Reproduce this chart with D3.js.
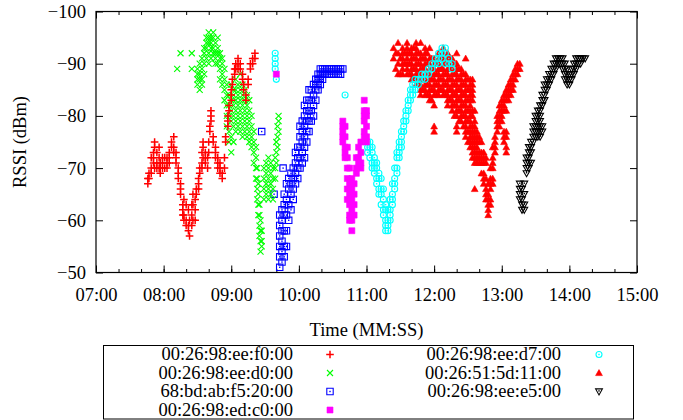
<!DOCTYPE html>
<html>
<head>
<meta charset="utf-8">
<script src="https://cdn.jsdelivr.net/npm/d3@7"></script>
<style>
  body { margin: 0; background: #fff; }
  text { font-family: "Liberation Serif", "Times New Roman", "DejaVu Serif", serif; font-size: 18.5px; fill: #000; }
</style>
</head>
<body>
<script>

// legend names, in plot order
var macs = ["00:26:98:ee:f0:00", "00:26:98:ee:d0:00", "68:bd:ab:f5:20:00", "00:26:98:ed:c0:00",
            "00:26:98:ee:d7:00", "00:26:51:5d:11:00", "00:26:98:ee:e5:00"];

var xTicks = [420, 480, 540, 600, 660, 720, 780, 840, 900];   // seconds
var xTickLabels = ["07:00", "08:00", "09:00", "10:00", "11:00", "12:00", "13:00", "14:00", "15:00"];
var yTicks = [-100, -90, -80, -70, -60, -50];
var yTickLabels = ["\u2212100", "\u221290", "\u221280", "\u221270", "\u221260", "\u221250"];

// each row: [time in seconds, rssi readings...]
var f0 = [
  [466, -68, -67], [467, -69, -68], [469, -70, -69, -72], [471, -72, -73, -71], [472, -75, -74, -70],
  [474, -73, -71, -70], [476, -74, -72, -70], [477, -71, -70, -69], [479, -70, -71, -72], [481, -72, -70],
  [483, -71, -70, -72], [485, -73, -72, -71], [487, -75, -74], [489, -76, -74, -73], [491, -73, -72, -71],
  [493, -70, -69, -68], [495, -67, -66, -65], [497, -63, -62, -61], [498, -64, -61, -60], [500, -63, -60, -59],
  [502, -62, -59, -58], [503, -60, -57], [505, -63, -61, -59], [506, -65, -63, -60], [508, -64, -62, -60],
  [509, -66, -65], [511, -68, -67, -66], [512, -70, -69], [514, -73, -71, -70], [515, -75, -74, -72],
  [517, -73, -72, -71], [519, -72, -70], [520, -75, -73], [521, -78, -77], [522, -81, -80, -79],
  [524, -76, -75], [526, -74, -73, -72], [528, -72, -71, -70], [530, -71, -70, -69], [532, -69, -68],
  [534, -72, -70], [535, -76, -75], [537, -80, -79, -78], [538, -82, -81], [540, -85, -84, -83],
  [541, -87, -86], [543, -88, -89], [544, -90, -89], [546, -91, -90, -89], [548, -90, -89],
  [550, -88, -87], [551, -86, -85], [553, -84, -83], [555, -87, -86], [557, -90, -89],
  [559, -91, -90], [561, -92, -91]
];

var d0 = [
  [492, -89], [495, -92], [505, -92, -89], [510, -89, -88, -87, -86], [512, -90, -88, -87, -85],
  [514, -91, -89, -87, -86], [516, -93, -92, -90, -88], [518, -95, -94, -93, -91], [520, -96, -95, -94, -92, -90],
  [522, -95, -94, -93, -91], [524, -96, -95, -93, -92], [526, -94, -92, -91, -90], [528, -95, -93, -92, -90],
  [530, -92, -91, -89, -87], [532, -91, -90, -88, -86], [534, -89, -87, -85, -83], [536, -86, -84, -82, -80, -78],
  [538, -84, -82, -80, -77, -75], [540, -86, -83, -81, -79, -76, -73], [542, -85, -84, -82, -80, -78, -75],
  [544, -87, -85, -83, -81, -79, -77], [546, -86, -84, -82, -80, -78], [548, -88, -85, -83, -81, -79, -77],
  [550, -86, -84, -82, -80, -78, -76], [552, -85, -83, -81, -79, -77], [554, -84, -82, -80, -78, -76],
  [556, -83, -81, -79, -77, -75], [558, -80, -78, -76, -74], [560, -77, -75, -73, -71], [562, -74, -72, -70, -68],
  [563, -70, -68, -66, -64], [564, -67, -65, -63, -61], [565, -63, -61, -59, -57], [566, -60, -58, -56, -54],
  [567, -58, -56, -55], [569, -70, -68, -66, -64], [571, -71, -69, -67, -65], [573, -72, -70, -68, -66, -64],
  [575, -71, -69, -67, -65], [577, -70, -68, -66, -64], [579, -72, -70, -68], [580, -75, -73, -71],
  [581, -78, -76, -74], [582, -80, -79, -77]
];

var f520 = [
  [567, -77], [578, -65], [586, -70],
  [583, -51, -53, -55, -57, -59, -61], [585, -52, -54, -56, -58, -60, -62], [587, -53, -55, -58, -61, -63, -65],
  [589, -55, -58, -61, -64, -67], [591, -60, -63, -66, -68], [593, -62, -65, -67, -69], [595, -64, -66, -68, -70],
  [597, -67, -69, -71, -73], [599, -68, -70, -72, -74], [601, -70, -72, -74, -76, -78], [603, -71, -73, -75, -77, -79],
  [605, -72, -74, -76, -78, -80, -82], [607, -75, -77, -79, -81, -83], [609, -77, -79, -81, -83, -85],
  [611, -79, -81, -83, -85], [613, -80, -82, -84, -86], [615, -83, -85, -86, -87], [617, -85, -86, -87, -88],
  [619, -86, -87, -88, -89], [621, -87, -88, -89], [623, -88, -89], [625, -88, -89], [627, -88, -89],
  [629, -88, -89], [631, -88, -89], [633, -88, -89], [635, -88, -89], [637, -88, -89], [639, -89]
];

var c0 = [
  [580, -88], [639, -79, -78, -77, -76, -75], [641, -78, -76, -74, -73, -72], [643, -74, -72, -70, -68, -66, -64],
  [645, -70, -67, -65, -63, -61, -60], [647, -68, -66, -64, -62, -60, -58], [649, -67, -65, -63, -61],
  [651, -72, -70, -69], [653, -74, -72, -71], [655, -75, -73, -71, -70], [658, -83, -81, -80, -79, -77, -76],
  [660, -81, -80, -78, -76, -75]
];

var d7 = [
  [579, -92, -91, -90, -89], [580, -87], [641, -84], [661, -75, -74, -73], [663, -75, -74, -72],
  [665, -74, -73, -71, -70], [667, -72, -71, -70, -69], [669, -71, -70, -68, -67], [671, -69, -68, -66, -65],
  [673, -68, -66, -65, -63], [675, -66, -64, -62, -61], [677, -63, -62, -60, -59, -58], [679, -62, -60, -59, -58],
  [681, -64, -62, -61, -60], [683, -67, -65, -64, -63], [685, -70, -68, -67, -66], [687, -73, -72, -70, -69],
  [689, -75, -74, -73, -72], [691, -77, -76, -75, -74], [693, -79, -78, -77], [695, -81, -80, -79],
  [697, -83, -82, -81], [699, -85, -84, -83], [701, -86, -85, -84], [703, -87, -86, -85], [706, -87, -86],
  [709, -88, -87], [712, -88, -87], [715, -89, -88], [718, -90, -89], [721, -91, -90], [724, -92, -91, -90],
  [727, -93, -92, -91], [730, -93, -92, -90], [733, -91, -90], [736, -90, -89]
];

var s5d = [
  [684, -93, -91], [686, -92, -89], [688, -94, -92, -90, -88], [690, -91, -88],
  [692, -93, -92, -91, -90, -89, -88], [694, -92, -90], [696, -94, -93, -92, -91, -90, -89, -88],
  [698, -92, -90, -88], [700, -93, -92, -91, -90, -89, -88, -87], [702, -93, -91, -89, -87],
  [704, -94, -93, -92, -91, -90, -89, -88, -87, -86], [706, -92, -90, -88, -86],
  [708, -94, -92, -91, -90, -89, -88, -87, -86, -85, -84], [710, -91, -89, -87, -85],
  [712, -93, -92, -91, -90, -89, -88, -87, -86, -85, -84], [714, -92, -90, -88, -86, -84],
  [716, -93, -91, -90, -89, -88, -87, -86, -85, -84, -83], [718, -91, -89, -87, -85, -83],
  [720, -91, -90, -89, -88, -87, -86, -85, -84, -82, -78, -77], [722, -90, -88, -86, -84],
  [724, -92, -91, -90, -89, -88, -87, -86, -85, -84], [726, -91, -89, -87, -85],
  [728, -93, -92, -91, -90, -89, -88, -87, -86, -85, -84], [730, -90, -88, -86, -84],
  [732, -92, -91, -90, -89, -88, -87, -86, -85, -84, -83, -82], [734, -91, -89, -87, -85, -83],
  [736, -91, -90, -89, -88, -87, -86, -85, -84, -83, -82, -81], [738, -90, -88, -86, -84, -82, -80],
  [740, -92, -90, -89, -88, -87, -86, -85, -84, -83, -82, -81, -80, -78, -77], [742, -89, -87, -85, -83, -81, -79],
  [744, -89, -88, -87, -86, -85, -84, -83, -82, -81, -80, -79], [746, -88, -86, -84, -82, -80, -78],
  [748, -91, -88, -87, -86, -85, -84, -83, -82, -81, -80, -79, -78, -77, -76], [750, -87, -85, -83, -81, -79, -77, -75],
  [752, -87, -86, -85, -84, -83, -82, -81, -80, -79, -78, -77, -76, -75, -74],
  [754, -87, -86, -85, -84, -83, -81, -80, -78, -77, -76, -75, -74, -73, -72],
  [756, -81, -79, -78, -77, -76, -75, -74, -73, -72, -71, -66], [758, -77, -76, -75, -74, -73, -72, -71],
  [760, -76, -75, -73, -72, -71], [762, -75, -73, -72, -71, -69], [764, -73, -72, -71, -69, -68, -67],
  [766, -72, -71, -68, -66, -65, -64], [768, -67, -65, -64, -63, -62, -61], [770, -70, -68, -67, -66, -64, -63],
  [772, -74, -72, -71, -70, -68, -67], [774, -76, -75, -74, -73], [776, -80, -79, -78, -77],
  [778, -82, -81, -80, -79, -78], [780, -83, -82, -81, -80, -79], [782, -84, -83, -82, -81, -77, -76, -75],
  [784, -85, -84, -83, -81, -77, -76, -74, -73], [786, -86, -85, -84, -83], [788, -87, -86, -85, -84],
  [790, -88, -87, -86, -85], [792, -89, -88, -87], [794, -90, -89, -88], [796, -90, -89]
];

var e5 = [
  [796, -67, -66, -65, -64], [798, -66, -64, -63, -62], [800, -67, -65, -63, -62], [802, -72, -71, -70, -69],
  [804, -74, -73, -72, -71, -70], [806, -75, -74, -73, -71], [808, -78, -77, -76, -75], [810, -80, -79, -78, -77, -76],
  [812, -81, -80, -79, -78, -77, -76], [814, -82, -81, -80, -79, -78, -77, -76], [816, -84, -83, -82, -78, -77],
  [818, -86, -85, -84, -83], [820, -87, -86, -85], [822, -88, -87, -86], [824, -89, -88, -87], [826, -90, -89, -88],
  [828, -91, -90, -89], [830, -91, -90], [832, -91, -90], [834, -91, -90, -89], [836, -90, -89, -88, -87],
  [838, -89, -88, -87, -86], [840, -88, -87, -86], [842, -89, -88, -87], [844, -90, -89, -88],
  [846, -91, -90, -89], [848, -91, -90], [850, -91, -90], [852, -91], [854, -91]
];

var seriesData = [f0, d0, f520, c0, d7, s5d, e5];
var colors = ["#ff0000", "#00ff00", "#0000ff", "#ff00ff", "#00ffff", "#ff0000", "#000000"];
var shapes = ["plus", "cross", "box", "boxfill", "circle", "triup", "tridown"];

var width = 683, height = 420;

var xScale = d3.scaleLinear().domain([420, 900]).range([96, 637]);
var yScale = d3.scaleLinear().domain([-100, -50]).range([11.5, 272.5]);

var svg = d3.select("body").append("svg")
    .attr("width", width)
    .attr("height", height);

// one path per marker kind, drawn round 0,0
function markerPath(kind) {
    switch (kind) {
        case "plus": return "M-3.8,0H3.8M0,-3.8V3.8";
        case "cross": return "M-3,-3L3,3M-3,3L3,-3";
        case "box": return "M-3.2,-3.2H3.2V3.2H-3.2Z";
        case "boxfill": return "M-3,-3H3V3H-3Z";
        case "circle": return "M3,0A3,3 0 1,1 -3,0A3,3 0 1,1 3,0Z";
        case "triup": return "M0,-3.4L3.4,2.6H-3.4Z";
        case "tridown": return "M0,3.4L3.4,-2.6H-3.4Z";
    }
}

function drawMarker(g, kind, color) {
    var filled = (kind == "boxfill" || kind == "triup");
    g.append("path")
        .attr("d", markerPath(kind))
        .attr("fill", filled ? color : "none")
        .attr("stroke", color)
        .attr("stroke-width", filled ? 0.6 : (kind == "plus" ? 1.5 : 1.1));
    // postscript-style centre dot on open shapes
    if (kind == "box" || kind == "circle" || kind == "tridown") {
        g.append("rect")
            .attr("x", -0.7).attr("y", kind == "tridown" ? -1.3 : -0.7)
            .attr("width", 1.4).attr("height", 1.4)
            .attr("fill", color);
    }
}

// axes: ticks point inward on all four sides
var gAxes = svg.append("g");

gAxes.append("g")
    .attr("transform", "translate(0," + yScale(-50) + ")")
    .call(d3.axisBottom(xScale).tickValues(d3.range(420, 901, 20)).tickSize(-3.5).tickFormat(""));
gAxes.append("g")
    .attr("transform", "translate(0," + yScale(-100) + ")")
    .call(d3.axisTop(xScale).tickValues(d3.range(420, 901, 20)).tickSize(-3.5).tickFormat(""));

var xAxis = d3.axisBottom(xScale).tickValues(xTicks).tickSize(-7).tickPadding(15)
    .tickFormat(function(d, i) { return xTickLabels[i]; });
gAxes.append("g")
    .attr("class", "x axis")
    .attr("transform", "translate(0," + yScale(-50) + ")")
    .call(xAxis);
gAxes.append("g")
    .attr("transform", "translate(0," + yScale(-100) + ")")
    .call(d3.axisTop(xScale).tickValues(xTicks).tickSize(-7).tickFormat(""));

var yAxis = d3.axisLeft(yScale).tickValues(yTicks).tickSize(-7).tickPadding(10)
    .tickFormat(function(d, i) { return yTickLabels[i]; });
gAxes.append("g")
    .attr("class", "y axis")
    .attr("transform", "translate(" + xScale(420) + ",0)")
    .call(yAxis);
gAxes.append("g")
    .attr("transform", "translate(" + xScale(900) + ",0)")
    .call(d3.axisRight(yScale).tickValues(yTicks).tickSize(-7).tickFormat(""));

gAxes.selectAll(".domain").remove();
gAxes.selectAll(".tick line").attr("stroke", "#000").attr("stroke-width", 1);
gAxes.selectAll("g").attr("font-family", null).attr("font-size", null);

// frame
svg.append("rect")
    .attr("x", xScale(420)).attr("y", yScale(-100))
    .attr("width", xScale(900) - xScale(420))
    .attr("height", yScale(-50) - yScale(-100))
    .attr("fill", "none").attr("stroke", "#000").attr("stroke-width", 1.2);

// axis titles
svg.append("text")
    .attr("x", (xScale(420) + xScale(900)) / 2)
    .attr("y", 336)
    .attr("text-anchor", "middle")
    .text("Time (MM:SS)");

svg.append("text")
    .attr("transform", "translate(26," + (yScale(-100) + yScale(-50)) / 2 + ") rotate(-90)")
    .attr("text-anchor", "middle")
    .text("RSSI (dBm)");

// points, last series first so the first one ends on top
var gPoints = svg.append("g");
for (var s = seriesData.length - 1; s >= 0; s--) {
    var pts = [];
    seriesData[s].forEach(function(row) {
        for (var k = 1; k < row.length; k++) pts.push({ t: row[0], r: row[k] });
    });
    var kind = shapes[s], color = colors[s];
    gPoints.append("g").selectAll("g")
        .data(pts)
        .enter().append("g")
        .attr("transform", function(d) { return "translate(" + xScale(d.t) + "," + yScale(d.r) + ")"; })
        .each(function() { drawMarker(d3.select(this), kind, color); });
}

// legend
var legend = svg.append("g");
legend.append("rect")
    .attr("x", 103.5).attr("y", 345.5)
    .attr("width", 530).attr("height", 73.5)
    .attr("fill", "#fff").attr("stroke", "#000").attr("stroke-width", 1);

macs.forEach(function(name, i) {
    var col = Math.floor(i / 4), row = i % 4;
    var textX = col == 0 ? 293 : 561;
    var symX = col == 0 ? 330 : 599;
    var baseY = 360 + row * 18.5;
    legend.append("text")
        .attr("x", textX).attr("y", baseY)
        .attr("text-anchor", "end")
        .text(name);
    var g = legend.append("g").attr("transform", "translate(" + symX + "," + (baseY - 5.5) + ")");
    drawMarker(g, shapes[i], colors[i]);
});

</script>
</body>
</html>
